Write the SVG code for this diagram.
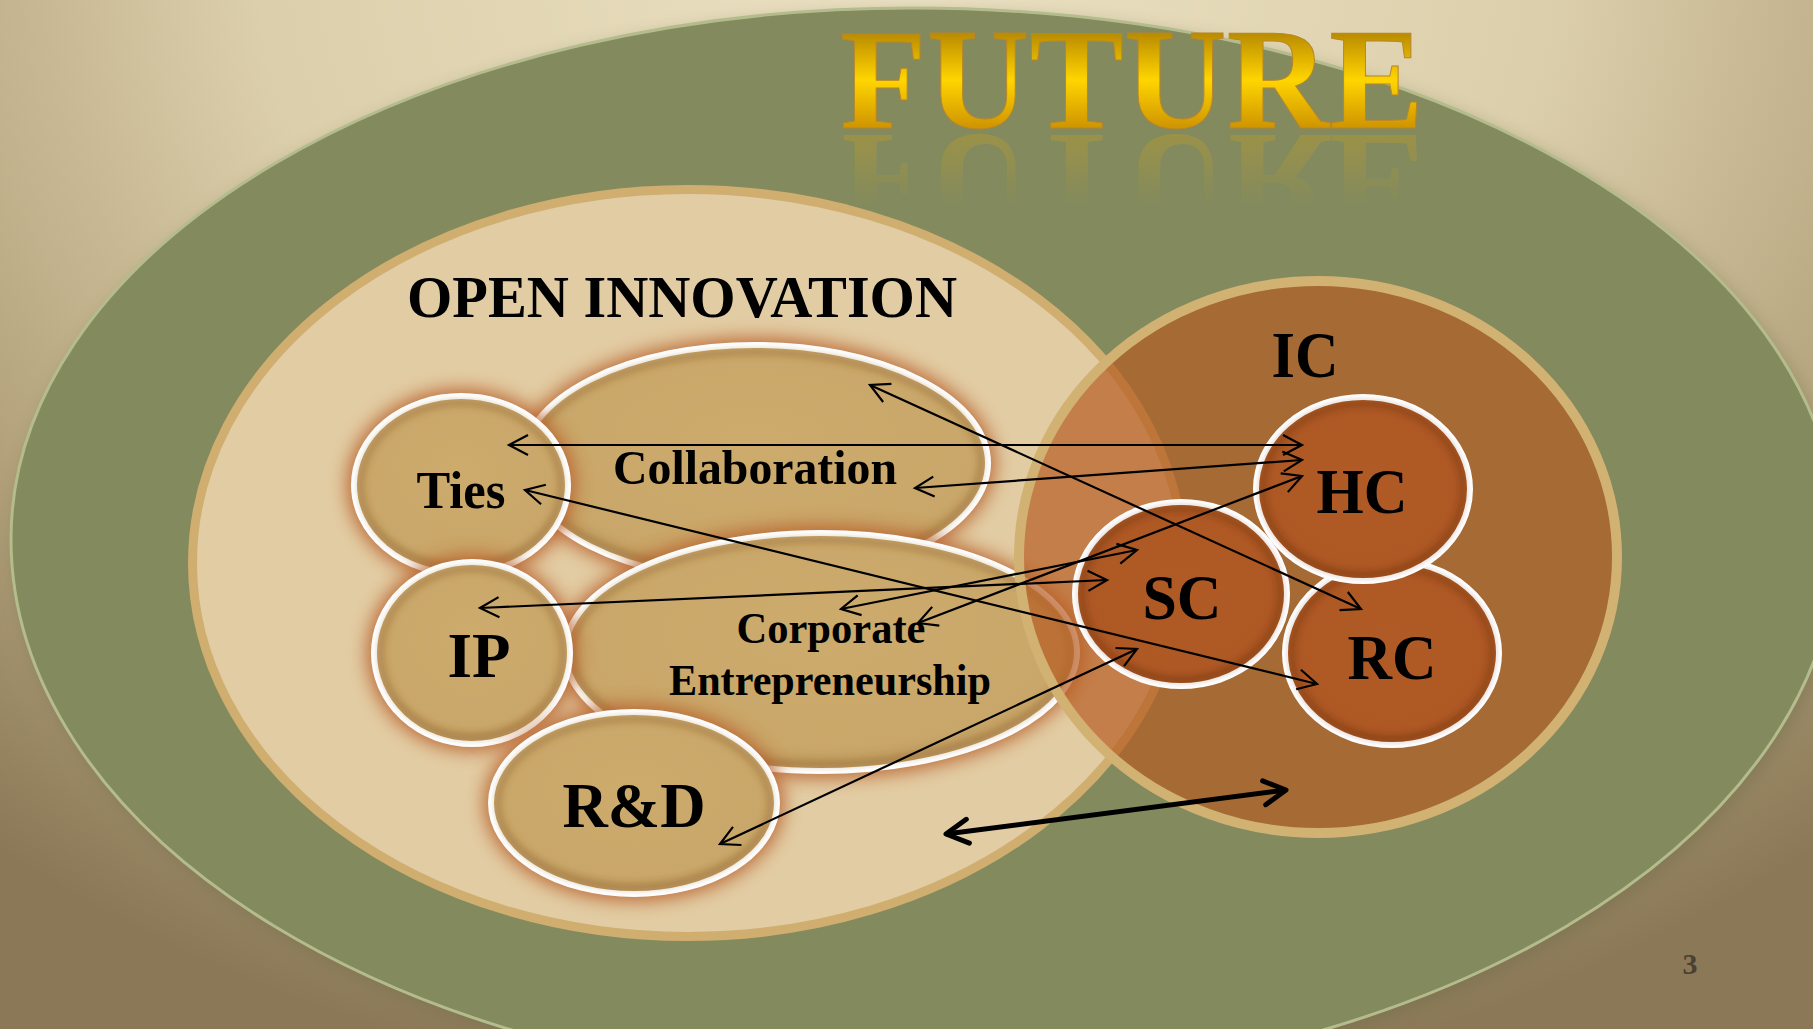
<svg xmlns="http://www.w3.org/2000/svg" width="1813" height="1029" viewBox="0 0 1813 1029">
<defs>
  <radialGradient id="bg" gradientUnits="userSpaceOnUse" cx="906" cy="-40" r="1150" gradientTransform="translate(906 -40) scale(1.25 1) translate(-906 40)">
    <stop offset="0" stop-color="#ebe1c3"/>
    <stop offset="0.45" stop-color="#dccfab"/>
    <stop offset="0.75" stop-color="#b4a37d"/>
    <stop offset="1" stop-color="#8a7856"/>
  </radialGradient>
  <linearGradient id="gold" gradientUnits="userSpaceOnUse" x1="0" y1="32" x2="0" y2="128">
    <stop offset="0" stop-color="#b88900"/>
    <stop offset="0.5" stop-color="#ffd500"/>
    <stop offset="1" stop-color="#cf9400"/>
  </linearGradient>
  <linearGradient id="goldRef" gradientUnits="userSpaceOnUse" x1="0" y1="128" x2="0" y2="55">
    <stop offset="0" stop-color="#c9a020" stop-opacity="0.35"/>
    <stop offset="1" stop-color="#c9a020" stop-opacity="0"/>
  </linearGradient>
  <radialGradient id="tanFill" cx="0.5" cy="0.42" r="0.6">
    <stop offset="0" stop-color="#cdab6d"/>
    <stop offset="0.8" stop-color="#c9a669"/>
    <stop offset="1" stop-color="#b89359"/>
  </radialGradient>
  <radialGradient id="rustFill" cx="0.5" cy="0.45" r="0.6">
    <stop offset="0" stop-color="#b05a25"/>
    <stop offset="0.8" stop-color="#ae5824"/>
    <stop offset="1" stop-color="#98491c"/>
  </radialGradient>
  <filter id="blur8" x="-30%" y="-30%" width="160%" height="160%"><feGaussianBlur stdDeviation="9"/></filter>
  <filter id="blur3" x="-10%" y="-10%" width="120%" height="120%"><feGaussianBlur stdDeviation="3"/></filter>
  <marker id="ah" markerUnits="userSpaceOnUse" viewBox="-25 -15 30 30" refX="0" refY="0" markerWidth="30" markerHeight="30" orient="auto-start-reverse" overflow="visible">
    <path d="M-19,-10 L0,0 L-19,10" fill="none" stroke="#000" stroke-width="2.2"/>
  </marker>
  <marker id="ahThick" markerUnits="userSpaceOnUse" viewBox="-30 -20 40 40" refX="0" refY="0" markerWidth="40" markerHeight="40" orient="auto-start-reverse" overflow="visible">
    <path d="M-22,-12 L0,0 L-22,12" fill="none" stroke="#000" stroke-width="5" stroke-linecap="round" stroke-linejoin="round"/>
  </marker>
</defs>
<style>
  .lbl{font-family:"Liberation Serif","Times New Roman",serif;font-weight:bold;fill:#000;text-anchor:middle}
  .tan{fill:url(#tanFill);stroke:#fff;stroke-width:6}
  .rust{fill:url(#rustFill);stroke:#fff;stroke-width:6}
  .glow{fill:#b8602a;opacity:0.9;filter:url(#blur8)}
  .shade{fill:none;stroke:#7a5020;stroke-opacity:0.35;stroke-width:6;filter:url(#blur3)}
  .shadeR{fill:none;stroke:#5a2a08;stroke-opacity:0.35;stroke-width:6;filter:url(#blur3)}
  .conn{fill:none;stroke:#000;stroke-width:2.2;marker-start:url(#ah);marker-end:url(#ah)}
  .thick{fill:none;stroke:#000;stroke-width:5;marker-start:url(#ahThick);marker-end:url(#ahThick)}
</style>

<rect x="0" y="0" width="1813" height="1029" fill="url(#bg)"/>

<g id="future-field">
  <path d="M 11,539 A 901,531 0 0 1 912,8 A 925,531 0 0 1 1837,539 A 925,548 0 0 1 912,1087 A 901,548 0 0 1 11,539 Z" fill="#5c6040" opacity="0.35" filter="url(#blur8)" transform="translate(4 5)"/>
  <path d="M 11,539 A 901,531 0 0 1 912,8 A 925,531 0 0 1 1837,539 A 925,548 0 0 1 912,1087 A 901,548 0 0 1 11,539 Z" fill="#828a5e" stroke="#b4bc8c" stroke-width="3"/>
</g>

<g id="open-innovation">
  <ellipse cx="688" cy="563" rx="495.5" ry="373.5" fill="#e2cca4" stroke="#cfae6f" stroke-width="9"/>
  <text class="lbl" x="682" y="317" font-size="60" textLength="550" lengthAdjust="spacingAndGlyphs">OPEN INNOVATION</text>
</g>

<g id="collaboration">
  <ellipse class="glow" cx="755" cy="463" rx="240" ry="125"/>
  <ellipse class="tan" cx="755" cy="463" rx="233" ry="118"/>
  <ellipse class="shade" cx="755" cy="463" rx="226" ry="111"/>
  <text class="lbl" x="755" y="484" font-size="49" textLength="284" lengthAdjust="spacingAndGlyphs">Collaboration</text>
</g>

<g id="corporate-entrepreneurship">
  <ellipse class="glow" cx="821" cy="652" rx="263" ry="126"/>
  <ellipse class="tan" cx="821" cy="652" rx="256" ry="119"/>
  <ellipse class="shade" cx="821" cy="652" rx="249" ry="112"/>
  <text class="lbl" x="831" y="643" font-size="44" textLength="189" lengthAdjust="spacingAndGlyphs">Corporate</text>
  <text class="lbl" x="830" y="695" font-size="44" textLength="322" lengthAdjust="spacingAndGlyphs">Entrepreneurship</text>
</g>

<g id="ties">
  <ellipse class="glow" cx="461" cy="485" rx="114" ry="96"/>
  <ellipse class="tan" cx="461" cy="485" rx="107" ry="89"/>
  <ellipse class="shade" cx="461" cy="485" rx="100" ry="82"/>
  <text class="lbl" x="461" y="508" font-size="53" textLength="89" lengthAdjust="spacingAndGlyphs">Ties</text>
</g>

<g id="ip">
  <ellipse class="glow" cx="472" cy="653" rx="105" ry="98"/>
  <ellipse class="tan" cx="472" cy="653" rx="98" ry="91"/>
  <ellipse class="shade" cx="472" cy="653" rx="91" ry="84"/>
  <text class="lbl" x="479" y="677" font-size="64" textLength="63" lengthAdjust="spacingAndGlyphs">IP</text>
</g>

<g id="rnd">
  <ellipse class="glow" cx="634" cy="803" rx="150" ry="98"/>
  <ellipse class="tan" cx="634" cy="803" rx="143" ry="91"/>
  <ellipse class="shade" cx="634" cy="803" rx="136" ry="84"/>
  <text class="lbl" x="634" y="827" font-size="64" textLength="143" lengthAdjust="spacingAndGlyphs">R&amp;D</text>
</g>

<g id="ic">
  <ellipse cx="1318" cy="557" rx="299" ry="276" fill="#b65c22" fill-opacity="0.69" stroke="#d1b273" stroke-width="10"/>
  <text class="lbl" x="1305" y="377" font-size="66" textLength="67" lengthAdjust="spacingAndGlyphs">IC</text>
</g>

<g id="rc">
  <ellipse class="rust" cx="1392" cy="653" rx="107" ry="92"/>
  <ellipse class="shadeR" cx="1392" cy="653" rx="100" ry="85"/>
  <text class="lbl" x="1392" y="679" font-size="64" textLength="89" lengthAdjust="spacingAndGlyphs">RC</text>
</g>

<g id="hc">
  <ellipse class="rust" cx="1363" cy="489" rx="107" ry="92"/>
  <ellipse class="shadeR" cx="1363" cy="489" rx="100" ry="85"/>
  <text class="lbl" x="1362" y="513" font-size="64" textLength="91" lengthAdjust="spacingAndGlyphs">HC</text>
</g>

<g id="sc">
  <ellipse class="rust" cx="1181" cy="594" rx="106" ry="92"/>
  <ellipse class="shadeR" cx="1181" cy="594" rx="99" ry="85"/>
  <text class="lbl" x="1182" y="619" font-size="64" textLength="79" lengthAdjust="spacingAndGlyphs">SC</text>
</g>

<g id="connectors">
  <line class="conn" x1="509" y1="445" x2="1302" y2="445"/>
  <line class="conn" x1="915" y1="488" x2="1302" y2="460"/>
  <line class="conn" x1="870" y1="385" x2="1361" y2="609"/>
  <line class="conn" x1="525" y1="490" x2="1317" y2="684"/>
  <line class="conn" x1="480" y1="608" x2="1107" y2="580"/>
  <line class="conn" x1="841" y1="609" x2="1137" y2="550"/>
  <line class="conn" x1="918" y1="623" x2="1302" y2="476"/>
  <line class="conn" x1="720" y1="844" x2="1137" y2="649"/>
  <line class="thick" x1="946" y1="834" x2="1286" y2="790"/>
</g>

<g id="title">
  <text x="1132" y="128" font-family="Liberation Serif, Times New Roman, serif" font-weight="bold" font-size="145" text-anchor="middle" textLength="584" lengthAdjust="spacingAndGlyphs" fill="url(#gold)" stroke="#b8862a" stroke-width="1">FUTURE</text>
  <text x="1132" y="128" transform="matrix(1 0 0 -1 0 263)" font-family="Liberation Serif, Times New Roman, serif" font-weight="bold" font-size="145" text-anchor="middle" textLength="584" lengthAdjust="spacingAndGlyphs" fill="url(#goldRef)">FUTURE</text>
</g>

<text x="1690" y="974" font-family="Liberation Serif, Times New Roman, serif" font-weight="bold" font-size="30" text-anchor="middle" fill="#4b4033">3</text>
</svg>
